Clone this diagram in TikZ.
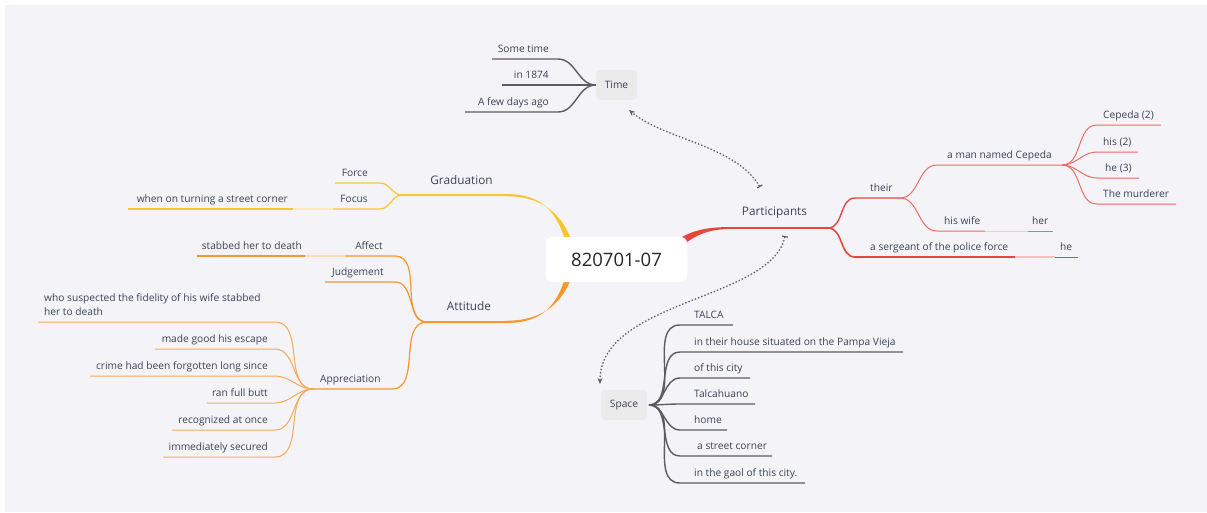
\documentclass[tikz,border=0pt]{standalone}
\usepackage{fontspec}
\setmainfont{Open Sans}
\usetikzlibrary{arrows.meta}
\definecolor{bg}{HTML}{F4F4F8}
\definecolor{txt}{HTML}{3B4256}
\definecolor{dk}{HTML}{5C5C5C}
\definecolor{red1}{HTML}{E8453C}
\definecolor{red2}{HTML}{EE6B63}
\definecolor{yel}{HTML}{FBC531}
\definecolor{ora}{HTML}{F7962F}
\definecolor{ora2}{HTML}{F8A857}
\definecolor{boxg}{HTML}{EBEBEB}
\begin{document}
\begin{tikzpicture}[x=1pt,y=-1pt,
  lbl/.style={font=\fontsize{10.2}{12}\selectfont, text=txt, inner sep=0pt},
  lblL/.style={lbl, anchor=base west},
  lblR/.style={lbl, anchor=base east},
  big/.style={font=\fontsize{11.8}{14}\selectfont, text=txt, inner sep=0pt, anchor=base},
  gbox/.style={fill=boxg, rounded corners=4pt, font=\fontsize{10.2}{12}\selectfont, text=txt, inner sep=0pt},
  dkl/.style={draw=dk, line width=1.4pt},
  rdl/.style={draw=red2, line width=1pt},
  yl/.style={draw=yel, line width=1.2pt},
  ol/.style={draw=ora, line width=1.2pt},
  ol2/.style={draw=ora2, line width=1pt},
  rel/.style={draw=dk, line width=1.3pt, dash pattern=on 1.4pt off 2pt},
]
\useasboundingbox (0,0) rectangle (1207,512);
\fill[bg] (5,5) rectangle (1207,512);

% ---------- main thick branches (behind root) ----------
\coordinate (gj) at (402,195);
\coordinate (aj) at (427,322);
\coordinate (pj) at (828,228);
\fill[yel] (570,259) .. controls (560.5,214) and (545,193.8) .. (505,194)
  -- (505,196.2) .. controls (545,196.2) and (567.5,216) .. (577,259) -- cycle;
\draw[yel, line width=1.8pt] (506,195) -- (gj);
\fill[ora] (570,259) .. controls (560.5,304) and (545,323.2) .. (505,323)
  -- (505,320.8) .. controls (545,320.8) and (567.5,302) .. (577,259) -- cycle;
\draw[ora, line width=1.8pt] (506,322) -- (aj);
\fill[red1] (665,249) .. controls (686,230.5) and (705,227) .. (730,227.1)
  -- (730,228.9) .. controls (705,229.2) and (690,237) .. (671,256) -- cycle;
\draw[red1, line width=1.8pt] (729,228) -- (pj);

% ---------- root ----------
\node[fill=white, rounded corners=6pt, minimum width=141pt, minimum height=45pt,
      font=\fontsize{18.5}{22}\selectfont, text=black!85] (root) at (616.5,259.5) {820701-07};

% ---------- Time ----------
\node[gbox, minimum width=41pt, minimum height=30pt] (time) at (616.5,85) {Time};
\draw[dkl] (time.west) to[out=180,in=0] (558,59) -- (492,59);
\draw[dkl] (time.west) -- (502,85);
\draw[dkl] (time.west) to[out=180,in=0] (558,112) -- (465,112);
\node[lblR] (t1) at (549,52) {Some time};
\node[lblR] (t2) at (549,78) {in 1874};
\node[lblR] (t3) at (549,105) {A few days ago};

% ---------- Participants ----------
\node[big] (part) at (774.5,215) {Participants};
\draw[red1, line width=1.4pt] (pj) to[out=0,in=180] (855,198) -- (900,198);
\node[lblL] (their) at (870,191) {their};
\draw[red1, line width=1.6pt] (pj) to[out=0,in=180] (855,257) -- (1015,257);
\draw[red1!35, line width=1.2pt] (1015,257) -- (1055,257);
\draw[red1, line width=1pt] (1055,257) -- (1078,257);
\node[lblL] (serg) at (870,250) {a sergeant of the police force};
\node[lblL] (he) at (1060,250) {he};

\coordinate (thj) at (900,198);
\draw[rdl] (thj) to[out=0,in=180] (937,165) -- (1062,165);
\draw[rdl] (thj) to[out=0,in=180] (937,231) -- (985,231);
\draw[red2!35, line width=1pt] (985,231) -- (1028,231);
\draw[rdl] (1028,231) -- (1053,231);
\node[lblL] (man) at (947,158) {a man named Cepeda};
\node[lblL] (wife) at (944,224) {his wife};
\node[lblL] (her) at (1032,224) {her};

\coordinate (cj) at (1062,165);
\draw[rdl] (cj) to[out=0,in=180] (1097,125) -- (1161,125);
\draw[rdl] (cj) to[out=0,in=180] (1097,152) -- (1138,152);
\draw[rdl] (cj) to[out=0,in=180] (1097,178) -- (1139,178);
\draw[rdl] (cj) to[out=0,in=180] (1097,204) -- (1176,204);
\node[lblL] (c1) at (1103,118) {Cepeda (2)};
\node[lblL] (c2) at (1103,145) {his (2)};
\node[lblL] (c3) at (1105,171) {he (3)};
\node[lblL] (c4) at (1103,197) {The murderer};

% ---------- Graduation ----------
\node[big] (grad) at (461.5,184) {Graduation};
\draw[yl] (gj) to[out=180,in=0] (380,183) -- (335,183);
\draw[yl] (gj) to[out=180,in=0] (380,209) -- (333,209);
\draw[yel!35, line width=1.2pt] (333,209) -- (293,209);
\draw[yl] (293,209) -- (128,209);
\node[lblR] (force) at (368,176) {Force};
\node[lblR] (focus) at (368,202) {Focus};
\node[lblR] (corner) at (288,202) {when on turning a street corner};

% ---------- Attitude ----------
\node[big] (att) at (469,310) {Attitude};
\draw[ol] (aj) to[out=180,in=0] (395,256) -- (345,256);
\draw[ora!35, line width=1.2pt] (345,256) -- (305,256);
\draw[ol] (305,256) -- (197,256);
\draw[ol] (aj) to[out=180,in=0] (395,282) -- (325,282);
\draw[ol] (aj) to[out=180,in=0] (392,389) -- (313,389);
\node[lblR] (affect) at (383,249) {Affect};
\node[lblR] (stab) at (302,249) {stabbed her to death};
\node[lblR] (judg) at (384,275) {Judgement};
\node[lblL] (appr) at (320,382) {Appreciation};

\coordinate (apj) at (313,389);
\draw[ol2] (apj) to[out=180,in=0] (275,322) -- (38,322);
\draw[ol2] (apj) to[out=180,in=0] (275,349) -- (155,349);
\draw[ol2] (apj) to[out=180,in=0] (275,376) -- (90,376);
\draw[ol2] (apj) to[out=180,in=0] (275,403) -- (207,403);
\draw[ol2] (apj) to[out=180,in=0] (275,430) -- (172,430);
\draw[ol2] (apj) to[out=180,in=0] (275,457) -- (163,457);
\node[lblL] (a1a) at (44,301.5) {who suspected the fidelity of his wife stabbed};
\node[lblL] (a1b) at (44,315.5) {her to death};
\node[lblR] (a2) at (268,342) {made good his escape};
\node[lblR] (a3) at (268,369) {crime had been forgotten long since};
\node[lblR] (a4) at (268,396) {ran full butt};
\node[lblR] (a5) at (268,423) {recognized at once};
\node[lblR] (a6) at (268,450) {immediately secured};

% ---------- Space ----------
\node[gbox, minimum width=46pt, minimum height=30pt] (space) at (624,405) {Space};
\coordinate (sj) at (649,405);
\draw[dkl] (sj) to[out=0,in=180] (680,325) -- (733,325);
\draw[dkl] (sj) to[out=0,in=180] (680,352) -- (903,352);
\draw[dkl] (sj) to[out=0,in=180] (680,378) -- (750,378);
\draw[dkl] (sj) to[out=0,in=180] (680,404) -- (755,404);
\draw[dkl] (sj) to[out=0,in=180] (680,430) -- (727,430);
\draw[dkl] (sj) to[out=0,in=180] (680,456) -- (772,456);
\draw[dkl] (sj) to[out=0,in=180] (680,483) -- (805,483);
\node[lblL] (s1) at (694,318) {TALCA};
\node[lblL] (s2) at (694,345) {in their house situated on the Pampa Vieja};
\node[lblL] (s3) at (694,371) {of this city};
\node[lblL] (s4) at (694,397) {Talcahuano};
\node[lblL] (s5) at (694,423) {home};
\node[lblL] (s6) at (697,449) {a street corner};
\node[lblL] (s7) at (694,476) {in the gaol of this city.};

% ---------- relationship arrows ----------
\coordinate (pt1) at (760,187);
\coordinate (tt1) at (629,110);
\coordinate (pt2) at (785,236);
\coordinate (st1) at (600,384);
\draw[rel, {Bar[width=6pt,line width=1.2pt]}-{Stealth[length=6pt,width=5pt]}]
  (pt1) .. controls (735,145) and (665,140) .. (tt1);
\draw[rel, {Bar[width=6pt,line width=1.2pt]}-{Stealth[length=6pt,width=5pt]}]
  (pt2) .. controls (772,300) and (600,300) .. (st1);
\end{tikzpicture}
\end{document}
